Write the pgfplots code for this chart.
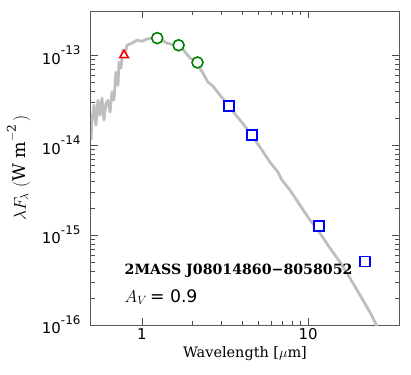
\documentclass[border=0pt]{standalone}
\usepackage{fontspec}
\setmainfont{DejaVu Serif}
\setsansfont{DejaVu Sans}
\usepackage{pgfplots}
\pgfplotsset{compat=1.18}
\definecolor{mblue}{RGB}{0,0,255}
\definecolor{mgreen}{RGB}{0,128,0}
\definecolor{mred}{RGB}{255,0,0}
\definecolor{mgrey}{RGB}{190,190,190}
\newcommand{\tl}[1]{10\raisebox{0.62em}{\fontsize{12}{13}\selectfont #1}}
\begin{document}
\begin{tikzpicture}
\begin{axis}[
  name=ax,
  xmode=log, ymode=log,
  scale only axis, width=308bp, height=314bp,
  xmin=0.493, xmax=35.3, ymin=1e-16, ymax=3.1e-13,
  axis line style={draw=black!65, line width=1pt},
  tick style={black!70},
  major tick length=7bp, minor tick length=4bp,
  tick align=inside,
  xtick={1,10}, xticklabels={1,10},
  ytick={1e-16,1e-15,1e-14,1e-13},
  yticklabels={\tl{-16},\tl{-15},\tl{-14},\tl{-13}},
  ticklabel style={font=\sffamily\fontsize{15}{16}\selectfont},
  yticklabel style={xshift=-7bp},
  xlabel={Wavelength [$\mu$m]},
  xlabel style={font=\fontsize{14.5}{16}\selectfont},
  ylabel={$\lambda F_\lambda\;(\mathrm{W\ m^{-2}}\,)$},
  ylabel style={font=\fontsize{17.5}{18}\selectfont, yshift=5bp},
  clip=true,
]
\addplot[color=mgrey, line width=2.8pt, line join=round] coordinates {
(0.493,1.14e-14)(0.500,1.90e-14)(0.514,2.78e-14)(0.528,1.67e-14)(0.543,3.16e-14)
(0.558,2.15e-14)(0.574,3.33e-14)(0.590,1.90e-14)(0.607,2.93e-14)(0.624,3.16e-14)
(0.642,2.33e-14)(0.660,3.88e-14)(0.678,3.16e-14)(0.697,6.47e-14)(0.717,4.64e-14)
(0.727,8.36e-14)(0.747,7.17e-14)(0.768,1.14e-13)(0.790,1.0e-13)(0.812,1.29e-13)
(0.870,1.36e-13)(0.933,1.47e-13)(1.0,1.43e-13)(1.072,1.51e-13)(1.149,1.55e-13)
(1.231,1.58e-13)(1.320,1.47e-13)(1.414,1.36e-13)(1.516,1.32e-13)(1.625,1.29e-13)
(1.742,1.20e-13)(1.867,1.02e-13)(1.946,9.3e-14)(2.055,8.8e-14)(2.146,8.36e-14)
(2.236,7.17e-14)(2.363,6.0e-14)(2.497,5.0e-14)(2.677,4.53e-14)(2.950,3.59e-14)
(3.296,2.78e-14)(3.684,2.15e-14)(4.118,1.67e-14)(4.475,1.36e-14)(4.795,1.14e-14)
(5.28,8.8e-15)(5.90,6.47e-15)(6.59,5.01e-15)(6.97,4.08e-15)(7.79,3.16e-15)
(8.94,2.15e-15)(10.27,1.47e-15)(11.80,1.05e-15)(13.55,7.17e-16)(15.57,5.01e-16)
(17.88,3.33e-16)(20.54,2.15e-16)(23.6,1.39e-16)(26.3,9.26e-17)
};
\addplot[only marks, mark=triangle*, mark size=5bp, mark options={draw=mred, fill=white, line width=1.6pt}] coordinates {(0.78,1.0e-13)};
\addplot[only marks, mark=*, mark size=5.5bp, mark options={draw=mgreen, fill=white, line width=1.6pt}] coordinates {
(1.235,1.55e-13)(1.662,1.29e-13)(2.159,0.83e-13)};
\addplot[only marks, mark=square*, mark size=5bp, mark options={draw=mblue, fill=white, line width=1.6pt}] coordinates {
(3.35,2.71e-14)(4.60,1.29e-14)(22.1,5.1e-16)};
\addplot[only marks, mark=square*, mark size=5bp, mark options={draw=mblue, fill=white, line width=1.6pt}] table[row sep=\\] {
x y\\ 11.6 1.26e-15\\
};
\node[anchor=west, font=\bfseries\fontsize{14.2}{16}\selectfont] at (rel axis cs:0.098,0.172) {2MASS J08014860−8058052};
\node[anchor=west, font=\fontsize{17.3}{19}\selectfont] at (rel axis cs:0.098,0.089) {$A_V$\,{\sffamily = 0.9}};
\end{axis}
\pgfresetboundingbox
\path[use as bounding box] ([xshift=-91bp,yshift=-50bp]ax.south west) rectangle ([xshift=12bp,yshift=11bp]ax.north east);
\end{tikzpicture}
\end{document}
